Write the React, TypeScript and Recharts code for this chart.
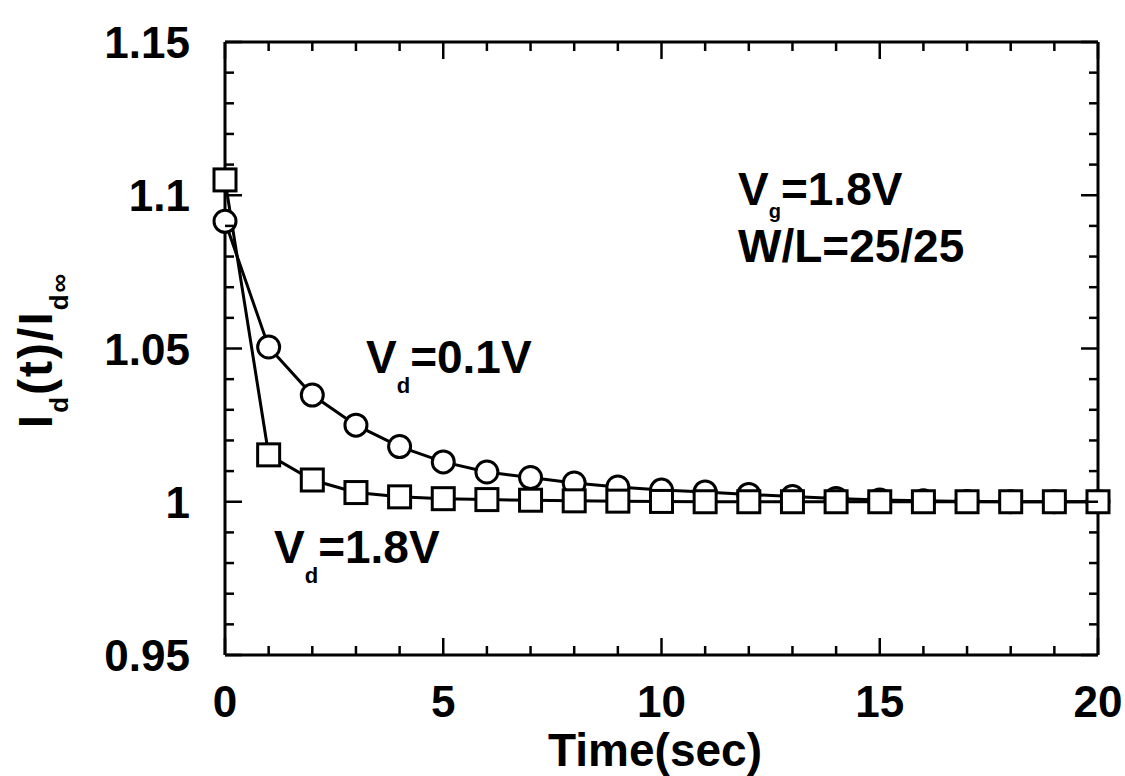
import React from "react";
import { LineChart, Line, XAxis, YAxis } from "recharts";

const timeSec = [0, 1, 2, 3, 4, 5, 6, 7, 8, 9, 10, 11, 12, 13, 14, 15, 16, 17, 18, 19, 20];
const vd01 = [1.0915, 1.0505, 1.0348, 1.025, 1.018, 1.013, 1.0097, 1.0079, 1.0061, 1.0048, 1.0038, 1.0032, 1.0024, 1.0017, 1.0011, 1.0006, 1.0003, 1.0001, 1.0, 1.0, 1.0];
const vd18 = [1.105, 1.0153, 1.0071, 1.003, 1.0016, 1.001, 1.0007, 1.0005, 1.0003, 1.0002, 1.0001, 1.0, 1.0, 1.0, 1.0, 1.0, 1.0, 1.0, 1.0, 1.0, 1.0];
const xTicks = [0, 1, 2, 3, 4, 5, 6, 7, 8, 9, 10, 11, 12, 13, 14, 15, 16, 17, 18, 19, 20];
const yTicks = [0.95, 0.96, 0.97, 0.98, 0.99, 1.0, 1.01, 1.02, 1.03, 1.04, 1.05, 1.06, 1.07, 1.08, 1.09, 1.1, 1.11, 1.12, 1.13, 1.14, 1.15];

const data = timeSec.map((t, i) => ({ t, vd01: vd01[i], vd18: vd18[i] }));

const FONT = "'Liberation Sans', Arial, Helvetica, sans-serif";
const isMajorX = (v: number) => v % 5 === 0;
const isMajorY = (v: number) => Math.abs(Math.round(v * 20) - v * 20) < 1e-6;

const BottomTick = (p: any) => {
  const v = p.payload.value;
  const major = isMajorX(v);
  return (
    <g>
      <line x1={p.x} x2={p.x} y1={p.y} y2={p.y - (major ? 17 : 9)} stroke="#000" strokeWidth={2.5} />
      {major && (
        <text x={p.x} y={p.y + 62} textAnchor="middle" fontFamily={FONT} fontWeight="bold" fontSize={44} fill="#000">
          {String(v)}
        </text>
      )}
    </g>
  );
};
const TopTick = (p: any) => {
  const v = p.payload.value;
  const major = isMajorX(v);
  return <line x1={p.x} x2={p.x} y1={p.y} y2={p.y + (major ? 17 : 9)} stroke="#000" strokeWidth={2.5} />;
};
const LeftTick = (p: any) => {
  const v = p.payload.value;
  const major = isMajorY(v);
  return (
    <g>
      <line x1={p.x} x2={p.x + (major ? 17 : 9)} y1={p.y} y2={p.y} stroke="#000" strokeWidth={2.5} />
      {major && (
        <text x={p.x - 35} y={p.y + 16} textAnchor="end" fontFamily={FONT} fontWeight="bold" fontSize={44} fill="#000">
          {String(v)}
        </text>
      )}
    </g>
  );
};
const RightTick = (p: any) => {
  const v = p.payload.value;
  const major = isMajorY(v);
  return <line x1={p.x} x2={p.x - (major ? 17 : 9)} y1={p.y} y2={p.y} stroke="#000" strokeWidth={2.5} />;
};

const CircleDot = (p: any) => (
  <circle key={`c${p.index}`} cx={p.cx} cy={p.cy} r={11} fill="#fff" stroke="#000" strokeWidth={3} />
);
const SquareDot = (p: any) => (
  <rect key={`s${p.index}`} x={p.cx - 11} y={p.cy - 11} width={22} height={22} fill="#fff" stroke="#000" strokeWidth={3} />
);

const txt = { fontFamily: FONT, fontWeight: "bold" as const, fill: "#000" };

export default function App() {
  return (
    <div style={{ position: "absolute", left: 0, top: 0, width: 1125, height: 776, background: "#fff" }}>
      <LineChart width={1125} height={776} data={data} margin={{ top: 41, right: 26, left: 0, bottom: 0 }}>
        <XAxis
          xAxisId="b"
          dataKey="t"
          type="number"
          domain={[0, 20]}
          ticks={xTicks}
          interval={0}
          height={121}
          tickSize={0}
          tickMargin={0}
          tick={BottomTick}
          axisLine={{ stroke: "#000", strokeWidth: 3 }}
          tickLine={false}
        />
        <XAxis
          xAxisId="t"
          orientation="top"
          dataKey="t"
          type="number"
          domain={[0, 20]}
          ticks={xTicks}
          interval={0}
          height={1}
          tickSize={0}
          tickMargin={0}
          tick={TopTick}
          axisLine={{ stroke: "#000", strokeWidth: 3 }}
          tickLine={false}
        />
        <YAxis
          yAxisId="l"
          type="number"
          domain={[0.95, 1.15]}
          ticks={yTicks}
          interval={0}
          width={225}
          tickSize={0}
          tickMargin={0}
          tick={LeftTick}
          axisLine={{ stroke: "#000", strokeWidth: 3 }}
          tickLine={false}
          allowDataOverflow
        />
        <YAxis
          yAxisId="r"
          orientation="right"
          type="number"
          domain={[0.95, 1.15]}
          ticks={yTicks}
          interval={0}
          width={1}
          tickSize={0}
          tickMargin={0}
          tick={RightTick}
          axisLine={{ stroke: "#000", strokeWidth: 3 }}
          tickLine={false}
          allowDataOverflow
        />
        <Line xAxisId="b" yAxisId="l" type="linear" dataKey="vd01" stroke="#000" strokeWidth={3} dot={CircleDot} isAnimationActive={false} />
        <Line xAxisId="b" yAxisId="l" type="linear" dataKey="vd18" stroke="#000" strokeWidth={3} dot={SquareDot} isAnimationActive={false} />
      </LineChart>
      <svg width={1125} height={776} style={{ position: "absolute", left: 0, top: 0, pointerEvents: "none" }}>
        <text x={738} y={205} fontSize={46} {...txt}>
          V<tspan fontSize={20} dy={13}>g</tspan>
          <tspan dy={-13}>=1.8V</tspan>
        </text>
        <text x={738} y={262} fontSize={46} {...txt}>W/L=25/25</text>
        <text x={366} y={373} fontSize={46} {...txt}>
          V<tspan fontSize={22} dy={20}>d</tspan>
          <tspan dy={-20}>=0.1V</tspan>
        </text>
        <text x={274} y={563} fontSize={46} {...txt}>
          V<tspan fontSize={22} dy={20}>d</tspan>
          <tspan dy={-20}>=1.8V</tspan>
        </text>
        <text x={655} y={766} textAnchor="middle" fontSize={46} {...txt}>Time(sec)</text>
        <text transform="translate(52,350) rotate(-90)" textAnchor="middle" fontSize={48} letterSpacing={2} {...txt}>
          I<tspan fontSize={26} dy={16}>d</tspan>
          <tspan dy={-16}>(t)/I</tspan>
          <tspan fontSize={26} dy={16}>d∞</tspan>
        </text>
      </svg>
    </div>
  );
}
